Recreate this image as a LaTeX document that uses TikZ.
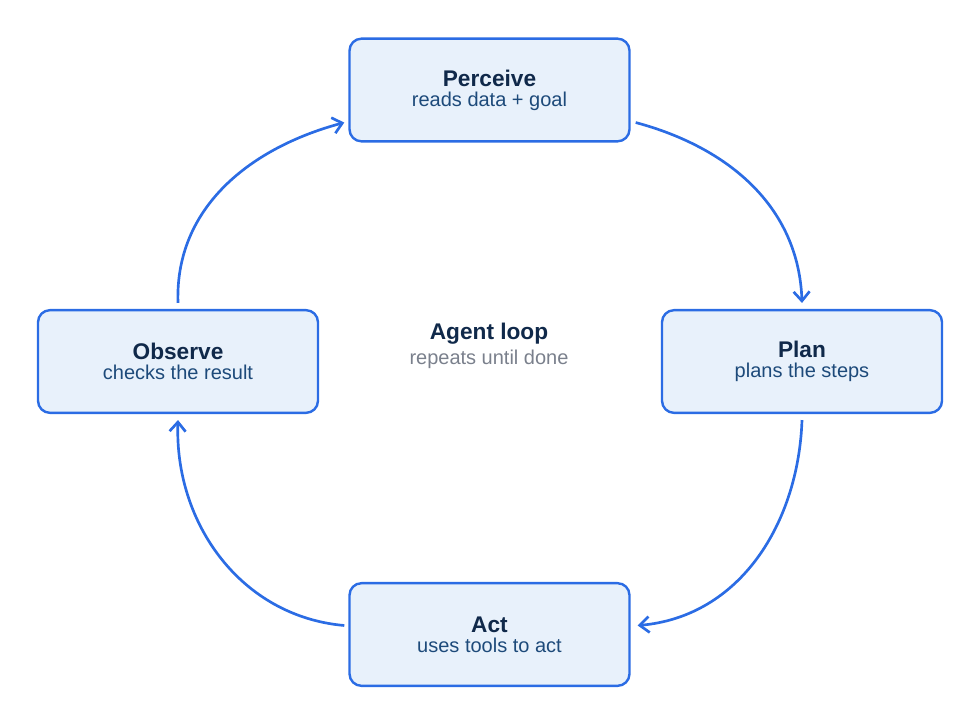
\documentclass[tikz,border=0pt]{standalone}
\usepackage{fontspec}
\setmainfont{Liberation Sans}
\usetikzlibrary{arrows.meta,calc}
\definecolor{loopblue}{HTML}{2B6CE4}
\definecolor{boxfill}{HTML}{E8F1FB}
\definecolor{titlecol}{HTML}{10294A}
\definecolor{subcol}{HTML}{1D4A7A}
\definecolor{graycol}{HTML}{7A808C}
\tikzset{
  stage/.style = {draw=loopblue, fill=boxfill, line width=1.8pt, rounded corners=9pt,
    minimum width=210pt, minimum height=77pt, align=center},
  flow/.style = {draw=loopblue, line width=2pt, -{Straight Barb[length=7pt,width=12pt,line width=2pt]}},
}
\newcommand{\stagetext}[2]{{\fontsize{17}{21}\selectfont\bfseries\color{titlecol}#1}\\[3pt]{\fontsize{15}{18}\selectfont\color{subcol}#2}}
\begin{document}
\begin{tikzpicture}[x=0.75pt, y=-0.75pt]
        \useasboundingbox (0,0) rectangle (980,724);

        \node[stage] (perceive) at (489.5, 90) {\stagetext{Perceive}{reads data + goal}};
        \node[stage] (plan) at (802, 361.5) {\stagetext{Plan}{plans the steps}};
        \node[stage] (act) at (489.5, 634.5) {\stagetext{Act}{uses tools to act}};
        \node[stage] (observe) at (178, 361.5) {\stagetext{Observe}{checks the result}};

        \node[align=center] (center) at (489, 346)
          {{\fontsize{17}{21}\selectfont\bfseries\color{titlecol}Agent loop}\\[3pt]{\fontsize{15}{18}\selectfont\color{graycol}repeats until done}};

        \draw[flow] ($(perceive.south east)+(5,-20)$) to[out=-15, in=92] ($(plan.north)+(0,-6)$);
        \draw[flow] ($(plan.south)+(0,6)$) to[out=-92, in=5] ($(act.east)+(7,-9)$);
        \draw[flow] ($(act.west)+(-4,-9)$) to[out=175, in=-92] ($(observe.south)+(0,6)$);
        \draw[flow] ($(observe.north)+(0,-6)$) to[out=92, in=-165] ($(perceive.south west)+(-4,-20)$);
      \end{tikzpicture}
\end{document}
